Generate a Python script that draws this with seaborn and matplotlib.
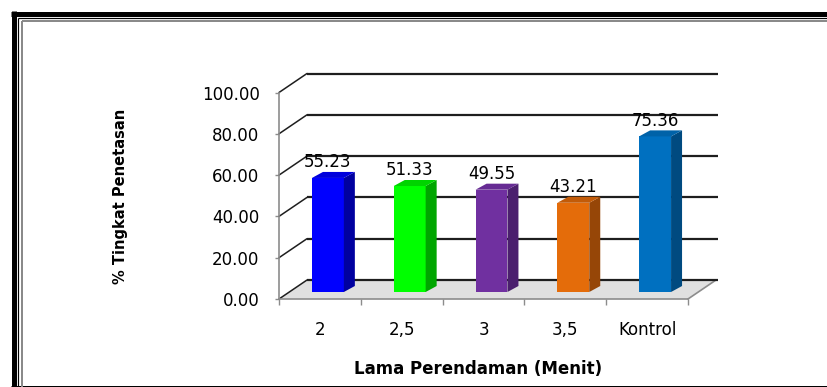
import numpy as np
import pandas as pd
import matplotlib
matplotlib.use("Agg")
import matplotlib.pyplot as plt
import matplotlib.transforms as mtransforms
from matplotlib.patches import Polygon
from matplotlib.lines import Line2D
import seaborn as sns

# ---- data -------------------------------------------------------------
categories = ["2", "2,5", "3", "3,5", "Kontrol"]
hatch_rate = [55.23, 51.33, 49.55, 43.21, 75.36]
y_ticks = [0, 20, 40, 60, 80, 100]

front_colors = ["#0000FF", "#00FF00", "#7030A0", "#E46C0A", "#0070C0"]
top_colors = ["#0000DC", "#00D400", "#662B93", "#C25B08", "#0062A8"]
side_colors = ["#0000A0", "#00A600", "#4B1F6E", "#964607", "#004A80"]

# ---- figure geometry (pixels) ----------------------------------------
DPI = 100
W, H = 827, 387
sns.set_style("white")
plt.rcParams["font.family"] = ["DejaVu Sans"]
plt.rcParams["text.color"] = "black"
plt.rcParams["axes.labelcolor"] = "black"
plt.rcParams["xtick.labelcolor"] = "black"
plt.rcParams["ytick.labelcolor"] = "black"

fig = plt.figure(figsize=(W / DPI, H / DPI), dpi=DPI)
fig.patch.set_facecolor("white")

# front plane of the pseudo-3D box
x0_px, y0_px = 279, 299
w_px, h_px = 409, 206.5
ax = fig.add_axes([x0_px / W, (H - y0_px) / H, w_px / W, h_px / H])
ax.set_facecolor("none")

cat_per_px = 5 / w_px
val_per_px = 100 / h_px

# depth offsets (pixels, right / up)
bar_dx, bar_dy = 8, 7        # bar front faces sit a little behind the front edge
wall_dx, wall_dy = 28, 19    # back wall
depth_dx, depth_dy = 11, 6   # thickness of each bar

bar_tr = ax.transData + mtransforms.ScaledTranslation(
    bar_dx / DPI, bar_dy / DPI, fig.dpi_scale_trans)

# ---- bars --------------------------------------------------------------
df = pd.DataFrame({"Lama": categories, "Tingkat": hatch_rate})
sns.barplot(data=df, x="Lama", y="Tingkat", hue="Lama", palette=front_colors,
            width=0.39, saturation=1, linewidth=0, legend=False, ax=ax,
            zorder=4)

ddx = depth_dx * cat_per_px
ddy = depth_dy * val_per_px
for patch, top_c, side_c in zip(ax.patches, top_colors, side_colors):
    patch.set_transform(bar_tr)
    patch.set_clip_on(False)
    x = patch.get_x()
    w = patch.get_width()
    h = patch.get_height()
    side = Polygon([(x + w, 0), (x + w, h), (x + w + ddx, h + ddy), (x + w + ddx, ddy)],
                   closed=True, facecolor=side_c, edgecolor="none",
                   transform=bar_tr, clip_on=False, zorder=4)
    top = Polygon([(x, h), (x + w, h), (x + w + ddx, h + ddy), (x + ddx, h + ddy)],
                  closed=True, facecolor=top_c, edgecolor="none",
                  transform=bar_tr, clip_on=False, zorder=4)
    ax.add_patch(side)
    ax.add_patch(top)
    ax.text(x + w / 2, h + 5.1, f"{h:.2f}", transform=bar_tr, ha="center",
            va="baseline", fontsize=12, color="black", zorder=5)

# ---- floor and walls ---------------------------------------------------
bx = wall_dx * cat_per_px
by = wall_dy * val_per_px
floor = Polygon([(-0.5, 0), (4.5, 0), (4.5 + bx, by), (-0.5 + bx, by)], closed=True,
                facecolor="#E0E0E0", edgecolor="none", clip_on=False, zorder=1)
ax.add_patch(floor)
ax.plot([4.5, 4.5 + bx], [0, by], color="#8C8C8C", lw=1.2, clip_on=False, zorder=2)

for v in y_ticks:
    ax.plot([-0.5 + bx, 4.5 + bx + 0.02], [v + by, v + by], color="#1E1E1E",
            lw=1.6, clip_on=False, zorder=2, solid_capstyle="butt")
    ax.plot([-0.5, -0.5 + bx], [v, v + by], color="#1E1E1E", lw=1.1,
            clip_on=False, zorder=2)

# ---- axes --------------------------------------------------------------
ax.set_xlim(-0.5, 4.5)
ax.set_ylim(0, 100)
for s in ["top", "right"]:
    ax.spines[s].set_visible(False)
for s in ["left", "bottom"]:
    ax.spines[s].set_color("#8C8C8C")
    ax.spines[s].set_linewidth(1.2)
    ax.spines[s].set_zorder(3)

ax.set_yticks(y_ticks)
ax.set_yticklabels([f"{v:.2f}" for v in y_ticks])
ax.tick_params(axis="y", direction="out", length=3, width=1, color="#8C8C8C",
               pad=11, labelsize=12, labelcolor="black", left=True)

ax.set_xticks(np.arange(-0.5, 5, 1))
ax.set_xticklabels([])
ax.set_xticks(range(len(categories)), minor=True)
ax.set_xticklabels(categories, minor=True)
ax.tick_params(axis="x", which="major", direction="out", length=4, width=1,
               color="#8C8C8C", bottom=True)
ax.tick_params(axis="x", which="minor", length=0, pad=16, labelsize=12,
               labelcolor="black")

ax.set_xlabel("Lama Perendaman (Menit)", fontsize=12, fontweight="bold",
              color="black")
ax.xaxis.set_label_coords((478 - x0_px) / w_px, (y0_px - 360) / h_px)
ax.set_ylabel("% Tingkat Penetasan", fontsize=10.5, fontweight="bold",
              va="center", color="black")
ax.yaxis.set_label_coords((121 - x0_px) / w_px, (y0_px - 196) / h_px)

# ---- page frame ----------------------------------------------------------
def frame_line(xs, ys, color, lw_px):
    fig.add_artist(Line2D([x / W for x in xs], [1 - y / H for y in ys],
                          transform=fig.transFigure, color=color,
                          lw=lw_px * 72 / DPI, solid_capstyle="butt"))

frame_line([13.5, 13.5], [11, H], "black", 5)
frame_line([11, W], [13.5, 13.5], "black", 5)
frame_line([11, W], [386.5, 386.5], "black", 3)
frame_line([18, 18], [17.5, H], "black", 1.2)
frame_line([18, W], [18, 18], "black", 1.2)
frame_line([21.5, 21.5], [20.5, H], "#8A8A8A", 2)
frame_line([21.5, W], [20.5, 20.5], "#8A8A8A", 2)

fig.savefig("out.png", dpi=DPI)
